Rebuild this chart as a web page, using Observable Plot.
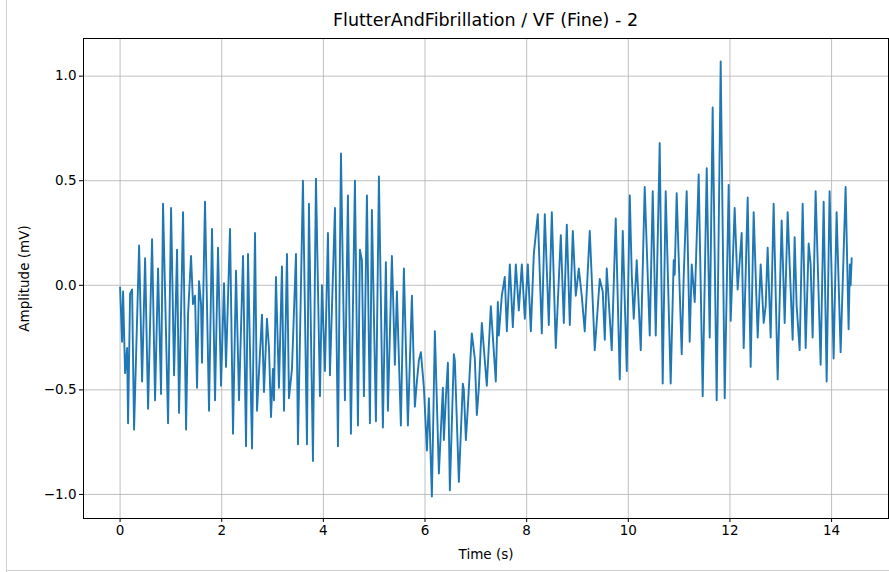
<!DOCTYPE html>
<html>
<head>
<meta charset="utf-8">
<script src="https://cdn.jsdelivr.net/npm/d3@7"></script>
<script src="https://cdn.jsdelivr.net/npm/@observablehq/plot@0.6"></script>
<style>
  body { margin: 0; background: #fff; }
  #wrap { position: relative; width: 889px; height: 572px; font-family: "DejaVu Sans", sans-serif; overflow: hidden; }
  #title { box-sizing: border-box; height: 30px; padding-top: 10px; font-size: 17.5px; line-height: 20px; text-align: center; padding-left: 82px; color: #000; white-space: nowrap; }
  #edgeL { position: absolute; left: 6px; top: 0; width: 1px; height: 572px; background: #d0d0d0; }
  #edgeB { position: absolute; left: 6px; top: 570px; width: 883px; height: 1px; background: #d0d0d0; }
</style>
</head>
<body>
<div id="wrap">
  <div id="title">FlutterAndFibrillation / VF (Fine) - 2</div>
  <div id="chart"></div>
  <div id="edgeL"></div>
  <div id="edgeB"></div>
</div>
<script>
const titleText = "FlutterAndFibrillation / VF (Fine) - 2";
const xLabel = "Time (s)";
const yLabel = "Amplitude (mV)";
const xTicks = [0, 2, 4, 6, 8, 10, 12, 14];
const yTicks = [-1.0, -0.5, 0.0, 0.5, 1.0];

// Time (s) of the signal's turning points
const time = [
  0, 0.039, 0.059, 0.098, 0.138, 0.157, 0.197, 0.236, 0.275, 0.374, 0.433, 0.492, 0.551, 0.629, 0.688, 0.747, 0.806, 0.845, 0.944, 1.003,
  1.062, 1.121, 1.160, 1.239, 1.298, 1.337, 1.396, 1.435, 1.475, 1.514, 1.553, 1.593, 1.612, 1.671, 1.750, 1.809, 1.868, 1.927, 1.986, 2.045,
  2.084, 2.163, 2.222, 2.281, 2.340, 2.419, 2.478, 2.517, 2.596, 2.655, 2.694, 2.792, 2.831, 2.890, 2.930, 2.969, 3.008, 3.028, 3.067, 3.126,
  3.185, 3.225, 3.284, 3.323, 3.382, 3.461, 3.500, 3.598, 3.677, 3.716, 3.795, 3.854, 3.933, 3.972, 4.031, 4.090, 4.129, 4.228, 4.287, 4.346,
  4.424, 4.483, 4.542, 4.621, 4.680, 4.719, 4.758, 4.798, 4.857, 4.916, 4.955, 5.034, 5.093, 5.171, 5.230, 5.270, 5.348, 5.368, 5.407, 5.447,
  5.525, 5.584, 5.663, 5.742, 5.800, 5.840, 5.879, 5.919, 5.978, 6.037, 6.076, 6.135, 6.194, 6.273, 6.351, 6.371, 6.410, 6.450, 6.489, 6.568,
  6.587, 6.666, 6.744, 6.764, 6.804, 6.843, 6.921, 6.980, 7.020, 7.059, 7.118, 7.216, 7.295, 7.393, 7.433, 7.452, 7.511, 7.570, 7.610, 7.669,
  7.728, 7.787, 7.846, 7.905, 7.964, 8.023, 8.082, 8.141, 8.219, 8.298, 8.357, 8.436, 8.495, 8.573, 8.672, 8.731, 8.790, 8.849, 8.908, 8.967,
  9.026, 9.084, 9.143, 9.242, 9.340, 9.438, 9.497, 9.537, 9.576, 9.674, 9.753, 9.832, 9.891, 9.970, 10.029, 10.068, 10.107, 10.166, 10.245, 10.323,
  10.422, 10.481, 10.540, 10.618, 10.677, 10.736, 10.834, 10.893, 10.913, 10.952, 11.051, 11.090, 11.149, 11.208, 11.248, 11.307, 11.385, 11.464, 11.543, 11.602,
  11.660, 11.739, 11.818, 11.897, 11.975, 12.015, 12.093, 12.152, 12.231, 12.271, 12.349, 12.408, 12.467, 12.546, 12.605, 12.664, 12.703, 12.742, 12.801, 12.860,
  12.939, 13.018, 13.077, 13.136, 13.175, 13.234, 13.273, 13.313, 13.372, 13.431, 13.490, 13.549, 13.588, 13.627, 13.686, 13.785, 13.844, 13.903, 13.961, 14.040,
  14.099, 14.178, 14.276, 14.335, 14.360, 14.375, 14.396
];
// Amplitude (mV) at those points
const amplitude = [
  -0.01, -0.27, -0.03, -0.42, -0.30, -0.66, -0.04, -0.02, -0.69, 0.19, -0.46, 0.13, -0.59, 0.22, -0.55, 0.08, -0.52, 0.39, -0.66, 0.37,
  -0.43, 0.17, -0.61, 0.35, -0.69, -0.14, 0.14, -0.09, -0.05, -0.49, 0.02, -0.09, -0.37, 0.40, -0.60, 0.27, -0.55, 0.18, -0.48, 0.01,
  -0.39, 0.27, -0.71, 0.07, -0.55, 0.14, -0.77, 0.15, -0.78, 0.25, -0.60, -0.14, -0.51, -0.16, -0.30, -0.63, -0.40, -0.55, 0.04, -0.49,
  0.09, -0.60, 0.15, -0.54, -0.40, 0.15, -0.76, 0.50, -0.76, 0.39, -0.84, 0.51, -0.53, 0.00, -0.41, 0.25, -0.43, 0.37, -0.77, 0.63,
  -0.55, 0.43, -0.71, 0.50, -0.67, 0.17, 0.12, -0.53, 0.43, -0.66, 0.36, -0.65, 0.52, -0.68, 0.11, -0.60, 0.14, -0.02, -0.38, -0.03,
  -0.67, 0.08, -0.67, -0.05, -0.58, -0.46, -0.36, -0.32, -0.49, -0.79, -0.54, -1.01, -0.22, -0.90, -0.49, -0.74, -0.54, -0.37, -0.98, -0.33,
  -0.36, -0.94, -0.47, -0.50, -0.74, -0.58, -0.23, -0.35, -0.62, -0.49, -0.18, -0.48, -0.10, -0.46, -0.08, -0.24, -0.05, 0.04, -0.22, 0.10,
  -0.20, 0.10, -0.12, 0.10, -0.16, 0.10, -0.22, 0.15, 0.34, -0.23, 0.34, -0.19, 0.35, -0.30, 0.24, -0.18, 0.29, -0.19, 0.26, -0.05,
  0.08, -0.05, -0.22, 0.26, -0.31, 0.03, -0.03, -0.26, 0.08, -0.31, 0.32, -0.45, 0.26, -0.41, 0.43, 0.05, -0.16, 0.12, -0.31, 0.47,
  -0.24, 0.45, -0.24, 0.68, -0.47, 0.45, -0.47, 0.12, 0.05, 0.44, -0.33, 0.04, 0.45, -0.27, 0.10, -0.08, 0.53, -0.53, 0.56, -0.25,
  0.85, -0.55, 1.07, -0.54, 0.48, -0.17, 0.37, -0.02, 0.25, -0.30, 0.42, -0.39, 0.35, -0.25, 0.10, -0.18, -0.10, 0.18, -0.25, 0.39,
  -0.45, 0.31, -0.18, 0.35, 0.10, -0.26, 0.23, -0.10, -0.31, 0.39, -0.30, 0.20, 0.10, -0.25, 0.45, -0.38, 0.40, -0.46, 0.45, -0.35,
  0.35, -0.32, 0.47, -0.21, 0.10, 0.00, 0.13
];

const data = time.map((t, i) => ({t, v: amplitude[i]}));

const chart = Plot.plot({
  width: 889,
  height: 542,
  marginTop: 8,
  marginBottom: 54,
  marginLeft: 83,
  marginRight: 1,
  style: {fontFamily: "DejaVu Sans, sans-serif", fontSize: "13.5px", color: "#000", background: "#fff"},
  x: {domain: [-0.72, 15.12], ticks: xTicks, tickFormat: d3.format("d")},
  y: {domain: [-1.115, 1.18], ticks: yTicks, tickFormat: d3.format(".1f")},
  marks: [
    Plot.gridX(xTicks, {stroke: "#b0b0b0", strokeOpacity: 1, strokeWidth: 0.8}),
    Plot.gridY(yTicks, {stroke: "#b0b0b0", strokeOpacity: 1, strokeWidth: 0.8}),
    Plot.line(data, {x: "t", y: "v", stroke: "#1f77b4", strokeWidth: 1.9, strokeLinejoin: "round", strokeLinecap: "round"}),
    Plot.axisX(xTicks, {tickSize: 4, tickPadding: 3, label: xLabel, labelAnchor: "center", labelArrow: "none", labelOffset: 40, fontSize: 13.5}),
    Plot.axisY(yTicks, {tickSize: 4, tickPadding: 3, label: yLabel, labelAnchor: "center", labelArrow: "none", labelOffset: 64, fontSize: 13.5, tickFormat: d3.format(".1f")}),
    Plot.frame({stroke: "#000", strokeWidth: 1})
  ]
});
document.getElementById("chart").appendChild(chart);
</script>
</body>
</html>
